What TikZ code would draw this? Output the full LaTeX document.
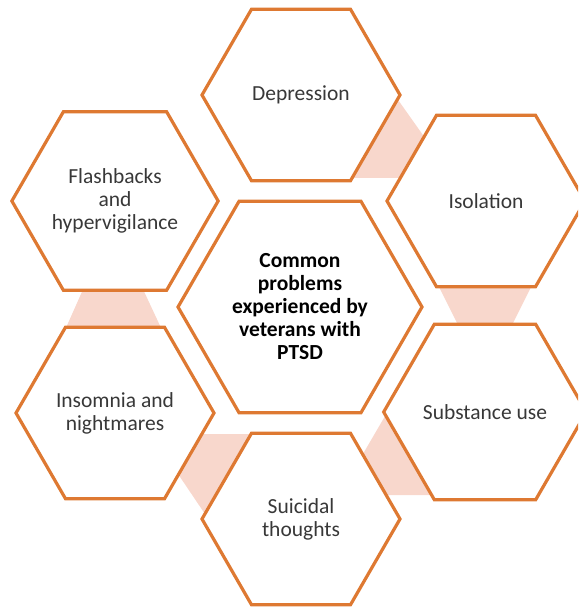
\documentclass[tikz,border=0pt]{standalone}
\usepackage{fontspec}
\setmainfont{Carlito}
\usetikzlibrary{shapes.geometric}
\definecolor{hexorange}{RGB}{222,121,50}
\definecolor{linkpink}{RGB}{248,215,204}
\definecolor{hextext}{RGB}{56,56,56}

\tikzset{
  hexa/.style={regular polygon, regular polygon sides=6, draw=hexorange,
    line width=3.2pt, fill=white, inner sep=0pt, minimum size=198pt,
    align=center, text=hextext, font=\fontsize{21.5}{23}\selectfont},
  hexcore/.style={hexa, minimum size=244pt, text=black,
    font=\fontsize{21.5}{23}\selectfont\bfseries},
  link/.style={fill=linkpink, draw=none}
}

\begin{document}
\begin{tikzpicture}[x=1pt, y=-1pt]
\useasboundingbox (0,0) rectangle (578,609);
\clip (0,0) rectangle (578,609);
% pink links behind the ring
\fill[link] (396,97) -- (430,145) -- (410,178) -- (350,178) -- cycle;
\fill[link] (438,285) -- (532,285) -- (510,329) -- (460,329) -- cycle;
\fill[link] (388,411) -- (360,459) -- (380,495) -- (440,495) -- cycle;
\fill[link] (198,434) -- (252,434) -- (207,517) -- (176,471) -- cycle;
\fill[link] (85,285) -- (141,285) -- (162,330) -- (65,330) -- cycle;
% the hexagons
\node[hexcore] (core) at (300,307) {Common\\problems\\experienced by\\veterans with\\PTSD};
\node[hexa] (dep) at (301,95) {Depression};
\node[hexa] (iso) at (486,201) {Isolation};
\node[hexa] (subst) at (485,412) {Substance use};
\node[hexa] (suic) at (301,519) {Suicidal\\thoughts};
\node[hexa] (insom) at (115,413) {Insomnia and\\nightmares};
\node[hexa] (flash) at (115,201) {Flashbacks\\and\\hypervigilance};
\end{tikzpicture}
\end{document}
